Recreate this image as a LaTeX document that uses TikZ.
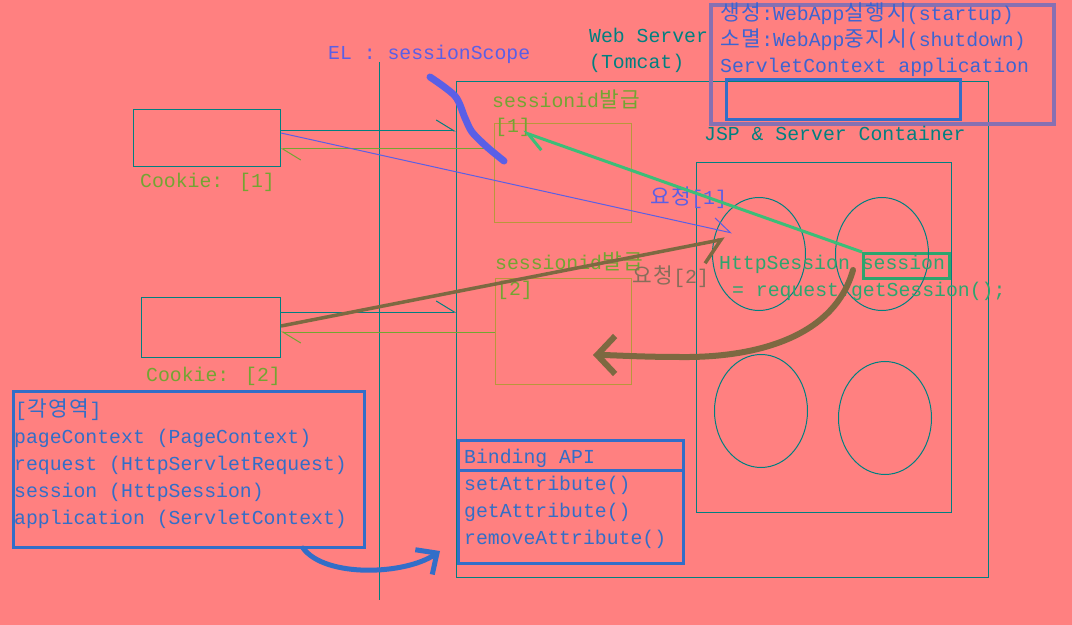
\documentclass[tikz,border=0pt]{standalone}
\usepackage{fontspec}
\setmainfont{Liberation Mono}
\newfontfamily\cjk[Scale=1.08,LetterSpace=8]{Noto Sans CJK KR}
\usetikzlibrary{arrows.meta,shapes.geometric}
\definecolor{bgpink}{RGB}{255,128,128}
\definecolor{tealc}{RGB}{0,128,128}
\definecolor{idgreen}{RGB}{115,165,50}
\definecolor{idorange}{RGB}{185,150,60}
\definecolor{elblue}{RGB}{90,95,230}
\definecolor{boxblue}{RGB}{50,110,200}
\definecolor{lifepurple}{RGB}{135,112,178}
\definecolor{lifeblue}{RGB}{60,100,210}
\definecolor{mint}{RGB}{60,190,120}
\definecolor{httpgreen}{RGB}{45,165,110}
\definecolor{penbrown}{RGB}{125,105,65}
\definecolor{reqbrown}{RGB}{135,110,90}
\newcommand{\ko}[1]{{\cjk #1}}
\newcommand{\lblfont}{\fontsize{19.8bp}{24bp}\selectfont}
\begin{document}
\begin{tikzpicture}[x=1bp,y=-1bp] \tikzset{% styles for frames, labels and connectors
        frame/.style={draw=tealc,line width=1bp,anchor=north west,inner sep=0pt},
        idbox/.style={draw=idorange,line width=1bp,anchor=north west,inner sep=0pt},
        thick/.style={line width=3bp,anchor=north west,inner sep=0pt},
        sess/.style={ellipse,draw=tealc,line width=1bp,inner sep=0pt,minimum width=93bp,minimum height=113bp},
        lbl/.style={anchor=base west,inner sep=0pt,font=\lblfont},
        harp/.style={-{Straight Barb[harpoon,length=18bp,width=22bp]}},
        c1/.style={tealc,line width=1bp,harp},
        c2/.style={idgreen,line width=1bp,harp},
        c3/.style={elblue,line width=1bp,harp},
        pen/.style={line width=#1,line cap=round,line join=round},
        }
        \useasboundingbox (0,0) rectangle (1072,625);
        \fill[bgpink] (0,0) rectangle (1072,625);
        % Frames
        \node[frame,minimum width=532bp,minimum height=496bp] (web) at (456,81) {};
        \node[frame,minimum width=255bp,minimum height=350bp] (jsp) at (696,162) {};
        \node[frame,minimum width=147bp,minimum height=57bp] (ck1) at (133,109) {};
        \node[frame,minimum width=139bp,minimum height=60bp] (ck2) at (141,297) {};
        \node[idbox,minimum width=137bp,minimum height=99bp] (id1) at (494,123) {};
        \node[idbox,minimum width=136bp,minimum height=106bp] (id2) at (495,278) {};
        \draw[tealc,line width=1bp] (379,62) -- (379,600);
        \node[thick,draw=lifepurple,line width=4bp,minimum width=343bp,minimum height=119bp] (life) at (709,3) {};
        \node[thick,draw=boxblue,minimum width=234bp,minimum height=40bp] (app) at (725,78) {};
        \node[thick,draw=boxblue,minimum width=351bp,minimum height=156bp] (areas) at (12,390) {};
        \node[thick,draw=boxblue,minimum width=225bp,minimum height=123bp] (bind) at (457,439) {};
        \draw[boxblue,line width=3bp] ([yshift=-31bp]bind.north west) -- ([yshift=-31bp]bind.north east);
        \node[thick,draw=httpgreen,minimum width=86bp,minimum height=25bp] (sbox) at (862,252) {};
        % Sessions
        \node[sess] (s1) at (759,254) {}; \node[sess] (s2) at (882,254) {};
        \node[sess] (s3) at (761,411) {}; \node[sess] (s4) at (885,418) {};
        % Labels
        \node[lbl,elblue] (el) at (328,60) {EL : sessionScope};
        \node[lbl,tealc] (websrv) at (589,43) {Web Server}; \node[lbl,tealc] (tomcat) at (589,69) {(Tomcat)};
        \node[lbl,lifeblue] (life1) at (720,21) {\ko{생성}:WebApp\ko{실행시}(startup)};
        \node[lbl,lifeblue] (life2) at (720,47) {\ko{소멸}:WebApp\ko{중지시}(shutdown)};
        \node[lbl,lifeblue] (life3) at (720,73) {ServletContext application};
        \node[lbl,tealc] (jsplbl) at (704,141) {JSP \& Server Container};
        \node[lbl,idgreen] (id1lbl) at (492,108) {sessionid\ko{발급}}; \node[lbl,idgreen] (n1) at (495,133) {[1]};
        \node[lbl,idgreen] (id2lbl) at (495,270) {sessionid\ko{발급}}; \node[lbl,idgreen] (n2) at (497,296) {[2]};
        \node[lbl,idgreen] (ck1lbl) at (140,188) {Cookie: [1]};
        \node[lbl,idgreen] (ck2lbl) at (146,381) {Cookie: [2]};
        \node[lbl,elblue] (req1lbl) at (650,205) {\ko{요청}[1]};
        \node[lbl,reqbrown] (req2lbl) at (632,284) {\ko{요청}[2]};
        \node[lbl,httpgreen] (http) at (719,270) {HttpSession session};
        \node[lbl,httpgreen] (getss) at (732,297) {= request.getSession();};
        \node[lbl,boxblue] (a0) at (15,416) {[\ko{각영역}]};
        \node[lbl,boxblue] (a1) at (14,443) {pageContext (PageContext)};
        \node[lbl,boxblue] (a2) at (14,470) {request (HttpServletRequest)};
        \node[lbl,boxblue] (a3) at (14,497) {session (HttpSession)};
        \node[lbl,boxblue] (a4) at (14,524) {application (ServletContext)};
        \node[lbl,boxblue] (b0) at (464,463) {Binding API};
        \node[lbl,boxblue] (b1) at (464,490) {setAttribute()};
        \node[lbl,boxblue] (b2) at (464,517) {getAttribute()};
        \node[lbl,boxblue] (b3) at (464,544) {removeAttribute()};
        % Ends
        \coordinate (ck1a) at ([yshift=-22bp]ck1.north east); \coordinate (ck1b) at ([yshift=-24bp]ck1.north east);
        \coordinate (ck1c) at ([yshift=-40bp]ck1.north east);
        \coordinate (ck2a) at ([yshift=-15bp]ck2.north east); \coordinate (ck2b) at ([yshift=-29bp]ck2.north east);
        \coordinate (ck2c) at ([yshift=-35bp]ck2.north east);
        \coordinate (req1) at (732,233); \coordinate (req2) at (725,239); \coordinate (tip1) at (523,132);
        \coordinate (back) at (853,270); \coordinate (back2) at (593,355);
        \coordinate (bstart) at (303,548); \coordinate (bend) at (440,551);
        %Edges
        \draw[c1] (ck1a) -- (ck1a -| web.west); \draw[c1] (ck2a) -- (ck2a -| web.west);
        \draw[c2] (ck1c -| id1.west) -- (ck1c); \draw[c2] (ck2c -| id2.west) -- (ck2c);
        \draw[c3] (ck1b) -- (req1);
        \draw[penbrown,line width=3.5bp,-{Straight Barb[harpoon,swap,length=20bp,width=40bp]}] (ck2b) -- (req2);
        \draw[mint,line width=3bp,harp] (sbox.north west) -- (tip1);
        \draw[penbrown,pen=6bp,-{Straight Barb[length=18bp,width=38bp]}] (back) .. controls (835,335) and (760,358) .. (680,357) .. controls (640,357) and (612,355) .. (back2);
        \draw[boxblue,pen=5bp,-{Straight Barb[length=16bp,width=30bp]}] (bstart) .. controls (325,578) and (405,575) .. (bend);
        \draw[elblue,pen=7bp] plot[smooth] coordinates {(430,77) (455,96) (465,118) (472,132) (487,147) (504,161)};
\end{tikzpicture}
\end{document}
